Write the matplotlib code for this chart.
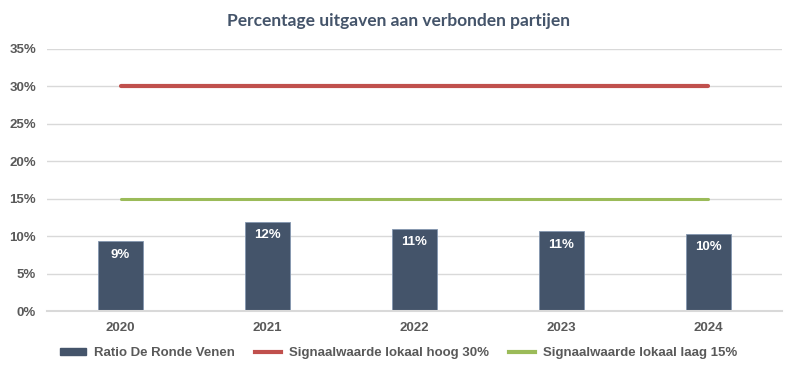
import matplotlib
matplotlib.use("Agg")
import matplotlib.pyplot as plt
from matplotlib.ticker import FuncFormatter, MultipleLocator
from matplotlib.patches import Patch
from matplotlib.lines import Line2D

years = ["2020", "2021", "2022", "2023", "2024"]
ratio = [9.3, 11.95, 11.0, 10.65, 10.3]
labels = ["9%", "12%", "11%", "11%", "10%"]
hoog = [30, 30, 30, 30, 30]
laag = [15, 15, 15, 15, 15]

bar_c = "#44546A"
red = "#C0504D"
green = "#9BBB59"
grey = "#595959"

plt.rcParams['font.family'] = ['Liberation Sans', 'DejaVu Sans']

fig = plt.figure(figsize=(7.97, 3.73), dpi=100)
ax = fig.add_axes([0.059, 0.166, 0.922, 0.703])

xs = range(len(years))
ax.bar(xs, ratio, width=0.31, color=bar_c, edgecolor="#8497B0", linewidth=0.6, zorder=2)
ax.plot(xs, hoog, color=red, linewidth=3, solid_capstyle='round', zorder=3)
ax.plot(xs, laag, color=green, linewidth=2.2, solid_capstyle='round', zorder=3)

for x, v, t in zip(xs, ratio, labels):
  ax.text(x, v - 1.8, t, ha='center', va='center', color='white', fontsize=9.5, fontweight='bold', zorder=4)

ax.set_xlim(-0.5, len(years) - 0.5)
ax.set_ylim(0, 35)
ax.yaxis.set_major_locator(MultipleLocator(5))
ax.yaxis.set_major_formatter(FuncFormatter(lambda v, p: "%d%%" % v))
ax.set_xticks(list(xs))
ax.set_xticklabels(years)
ax.grid(axis='y', color='#D9D9D9', linewidth=1, zorder=0)
for s in ['top', 'right', 'left']:
  ax.spines[s].set_visible(False)
ax.spines['bottom'].set_color('#D9D9D9')
ax.spines['bottom'].set_linewidth(1.5)
ax.tick_params(length=0, labelsize=9.5, labelcolor=grey, pad=8)
for lbl in ax.get_xticklabels() + ax.get_yticklabels():
  lbl.set_fontweight('bold')

fig.text(0.5, 0.945, "Percentage uitgaven aan verbonden partijen", ha='center', va='center',
         fontsize=12.5, fontweight='bold', color=bar_c, family=['Lato', 'DejaVu Sans'])

handles = [Patch(facecolor=bar_c, edgecolor=bar_c),
           Line2D([0], [0], color=red, linewidth=3),
           Line2D([0], [0], color=green, linewidth=3)]
names = ["Ratio De Ronde Venen", "Signaalwaarde lokaal hoog 30%", "Signaalwaarde lokaal laag 15%"]
leg = fig.legend(handles, names, loc='center', bbox_to_anchor=(0.5, 0.053), ncol=3, frameon=False,
                 fontsize=9.5, handlelength=2.0, handleheight=0.5, columnspacing=1.5, handletextpad=0.6)
for t in leg.get_texts():
  t.set_color(grey)
  t.set_fontweight('bold')

fig.savefig("out.png", dpi=100)
